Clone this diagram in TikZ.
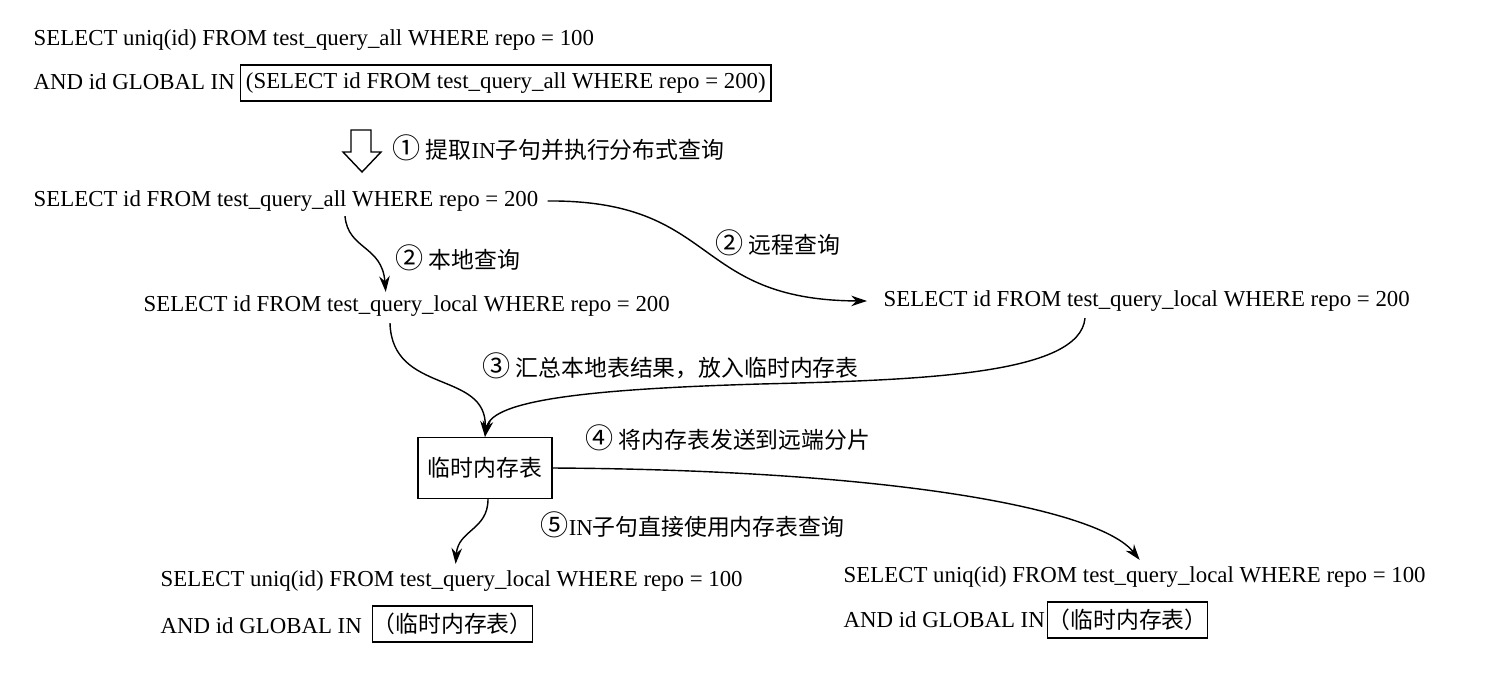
\documentclass[tikz,border=0pt]{standalone}
\usepackage{fontspec}
\setmainfont{Liberation Serif}
\newfontfamily\cjk{Noto Sans CJK SC}
\usepackage{tikz}
\usetikzlibrary{arrows.meta, positioning, calc}
\tikzstyle{arrow} = [-{Stealth[length=9pt,width=6pt]}]
\tikzstyle{txt} = [anchor=west, inner sep=0pt]
\tikzstyle{box} = [draw, thick, anchor=west, inner xsep=3pt, minimum height=0.72cm]
\newcommand\circnum[1]{{\fontsize{16pt}{15pt}\selectfont #1}}

\begin{document}
\begin{tikzpicture}[x=0.02cm, y=-0.02cm, font=\fontsize{13pt}{15pt}\selectfont, thick]

    \useasboundingbox (0,0) rectangle (1488,674);

    % original query
    \node[txt] (sql1) at (33,40) {SELECT uniq(id) FROM test\_query\_all WHERE repo = 100};
    \node[txt] (sql2) at (33,82) {AND id GLOBAL IN};
    \node[box] (sub) at (240,83) {(SELECT id FROM test\_query\_all WHERE repo = 200)};

    % step 1
    \draw (351,130) -- (371,130) -- (371,152) -- (381,152) -- (362,172) -- (343,152) -- (351,152) -- cycle;
    \node[txt] (lab1) at (392,148) {\cjk \circnum{①} 提取{\rmfamily IN}子句并执行分布式查询};

    \node[txt] (sql3) at (33,201) {SELECT id FROM test\_query\_all WHERE repo = 200};
    \node[txt] (loc) at (143,306) {SELECT id FROM test\_query\_local WHERE repo = 200};
    \node[txt] (rem) at (883,301) {SELECT id FROM test\_query\_local WHERE repo = 200};

    \node[txt] (lab2a) at (395,258) {\cjk \circnum{②} 本地查询};
    \node[txt] (lab2b) at (715,243) {\cjk \circnum{②} 远程查询};
    \node[txt] (lab3) at (482,366) {\cjk \circnum{③} 汇总本地表结果，放入临时内存表};

    \node[draw, thick, minimum width=2.68cm, minimum height=1.22cm] (mem) at (485,468) {\cjk 临时内存表};

    \node[txt] (lab4) at (585,438) {\cjk \circnum{④} 将内存表发送到远端分片};
    \node[txt] (lab5) at (540,525) {\cjk \circnum{⑤}{\rmfamily IN}子句直接使用内存表查询};

    % rewritten queries
    \node[txt] (bl1) at (160,581) {SELECT uniq(id) FROM test\_query\_local WHERE repo = 100};
    \node[txt] (bl2) at (160,626) {AND id GLOBAL IN};
    \node[box, inner xsep=0pt] (blbox) at (372,624) {\cjk （临时内存表）};
    \node[txt] (br1) at (843,577) {SELECT uniq(id) FROM test\_query\_local WHERE repo = 100};
    \node[txt] (br2) at (843,620) {AND id GLOBAL IN};
    \node[box, inner xsep=0pt] (brbox) at (1047,620) {\cjk （临时内存表）};

    % connectors
    \draw[arrow] ($(sql3.south west)+(312,4)$) .. controls (348,250) and (382,245) .. ($(loc.north)+(-21,-3)$);
    \draw[arrow, shorten <=5pt] (sql3.east) .. controls (720,200) and (690,300) .. ($(rem.west)+(-16,0)$);
    \draw[arrow] ($(loc.south west)+(247,6)$) .. controls (392,395) and (487,370) .. (mem.north);
    \draw[arrow] ($(rem.south west)+(202,6)$) .. controls (1080,375) and (920,380) .. (760,384)
        .. controls (590,389) and (492,400) .. (mem.north);
    \draw[arrow] (mem.east) .. controls (900,470) and (1100,510) .. ($(br1.north)+(5,-6)$);
    \draw[arrow] ($(mem.south)+(3,0)$) .. controls (488,530) and (458,530) .. ($(bl1.north)+(4,-6)$);

\end{tikzpicture}
\end{document}
